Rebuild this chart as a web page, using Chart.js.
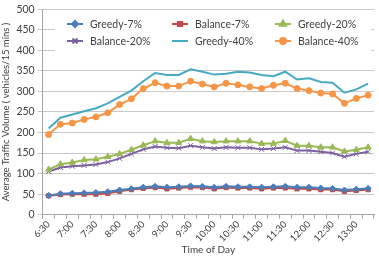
<!DOCTYPE html>
<html>
<head>
<meta charset="utf-8">
<script src="https://cdn.jsdelivr.net/npm/chart.js@4.4.1/dist/chart.umd.min.js"></script>
<style>
  body { margin: 0; background: #fff; }
  #wrap { width: 379px; height: 256px; }
</style>
</head>
<body>
<div id="wrap"><canvas id="traffic"></canvas></div>
<script>
// horas cada 15 minutos
const times = ['6:30','6:45','7:00','7:15','7:30','7:45','8:00','8:15','8:30','8:45',
  '9:00','9:15','9:30','9:45','10:00','10:15','10:30','10:45','11:00','11:15',
  '11:30','11:45','12:00','12:15','12:30','12:45','13:00','13:15'];

const greedy7 = [47,51,52,53,54,56,60,63,67,69,67,68,70,69,67,69,68,68,67,68,69,67,67,65,64,60,62,64];
const balance7 = [46,49,50,50,50,52,57,61,64,66,63,65,67,66,63,66,65,65,63,65,65,63,63,61,61,57,59,61];
const greedy20 = [110,123,127,133,135,141,148,158,169,179,175,175,185,179,177,179,179,179,173,173,180,168,168,164,164,154,158,164];
const balance20 = [105,115,118,120,122,128,137,148,159,166,163,162,168,164,161,164,163,163,159,161,164,156,156,153,150,141,148,153];
const greedy40 = [210,236,244,252,259,271,287,302,325,345,340,340,354,348,341,343,348,346,340,337,348,329,332,323,321,297,305,319];
const balance40 = [195,220,223,232,238,248,268,282,307,321,313,313,325,318,311,320,316,311,307,315,320,307,302,296,294,271,283,291];

const yTicks = [0, 50, 100, 150, 200, 250, 300, 350, 400, 450, 500];

function serie(label, data, color, style, radius) {
  return {
    label: label,
    data: data,
    borderColor: color,
    backgroundColor: color,
    borderWidth: 2,
    pointStyle: style,
    pointRadius: radius,
    pointBorderWidth: 1,
    tension: 0
  };
}

// leyenda dentro del area, 3 columnas con fondo blanco
const legendBox = {
  id: 'legendBox',
  afterDatasetsDraw(chart) {
    const c = chart.ctx;
    c.save();
    c.fillStyle = '#fff';
    c.fillRect(55, 14, 316, 41);
    c.font = '10.5px Lato';
    c.textBaseline = 'middle';
    const cols = [75, 180, 283];
    const rows = [24, 41];
    chart.data.datasets.forEach((ds, i) => {
      const x = cols[i % 3];
      const y = rows[Math.floor(i / 3)];
      c.strokeStyle = ds.borderColor;
      c.lineWidth = 2;
      c.beginPath();
      c.moveTo(x - 8, y);
      c.lineTo(x + 8, y);
      c.stroke();
      if (ds.pointRadius > 0 && Chart.helpers && Chart.helpers.drawPoint) {
        c.fillStyle = ds.backgroundColor;
        Chart.helpers.drawPoint(c, {pointStyle: ds.pointStyle, radius: ds.pointRadius, borderWidth: 1}, x, y);
      }
      c.fillStyle = '#404040';
      c.fillText(ds.label, x + 15, y + 0.5);
    });
    c.restore();
  }
};

const ctx = document.getElementById('traffic');
const chart = new Chart(ctx, {
  type: 'line',
  data: {
    labels: times,
    datasets: [
      serie('Greedy-7%', greedy7, '#4A7EBB', 'rectRot', 3),
      serie('Balance-7%', balance7, '#BE4B48', 'rect', 3),
      serie('Greedy-20%', greedy20, '#98B954', 'triangle', 3.5),
      serie('Balance-20%', balance20, '#7D60A0', 'crossRot', 3.5),
      serie('Greedy-40%', greedy40, '#46AAC5', 'circle', 0),
      serie('Balance-40%', balance40, '#F69546', 'circle', 3)
    ]
  },
  options: {
    responsive: true,
    maintainAspectRatio: false,
    animation: false,
    layout: { padding: { left: 0, right: 3, top: 0, bottom: 0 } },
    plugins: {
      legend: { display: false },
      tooltip: { enabled: false }
    },
    scales: {
      x: {
        offset: true,
        grid: { drawOnChartArea: false, drawTicks: true, tickLength: 4, offset: true, color: '#a6a6a6' },
        border: { color: '#a6a6a6' },
        ticks: {
          autoSkip: false,
          minRotation: 45,
          maxRotation: 45,
          padding: 0,
          color: '#404040',
          font: { family: 'Lato', size: 9.5 },
          callback: (v, i) => (i % 2 === 0 ? times[i] : '')
        },
        title: { display: true, text: 'Time of Day', color: '#404040', font: { family: 'Lato', size: 10 }, padding: { top: 0, bottom: 0 } }
      },
      y: {
        min: yTicks[0],
        max: yTicks[yTicks.length - 1],
        afterBuildTicks: (axis) => { axis.ticks = yTicks.map(v => ({ value: v })); },
        grid: { color: '#c8c8c8', tickLength: 5 },
        border: { color: '#a6a6a6' },
        ticks: { color: '#404040', font: { family: 'Lato', size: 10.5 }, padding: 3 },
        title: { display: true, text: 'Average Traffic Volume ( vehicles/15 mins )', color: '#404040', font: { family: 'Lato', size: 9.5 }, padding: { top: 0, bottom: 2 } }
      }
    }
  },
  plugins: [legendBox]
});
</script>
</body>
</html>
